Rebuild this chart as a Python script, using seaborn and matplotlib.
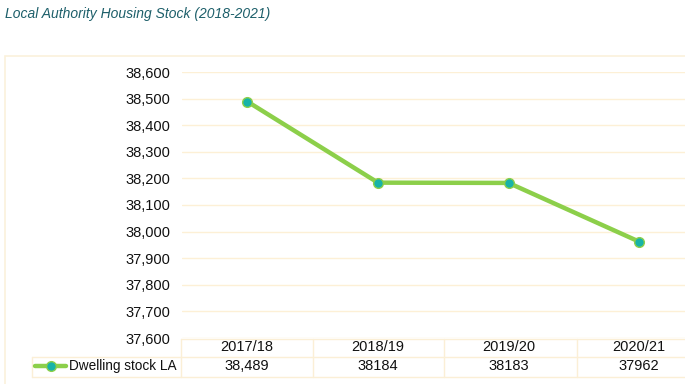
import matplotlib
matplotlib.use("Agg")
import matplotlib.pyplot as plt
import seaborn as sns
import pandas as pd
from matplotlib.lines import Line2D
from matplotlib.patches import Rectangle

sns.set_theme(style="white")
plt.rcParams['font.family'] = ['Liberation Sans', 'DejaVu Sans']

title = "Local Authority Housing Stock (2018-2021)"
series_name = "Dwelling stock LA"
categories = ["2017/18", "2018/19", "2019/20", "2020/21"]
values = [38489, 38184, 38183, 37962]
table_labels = ["38,489", "38184", "38183", "37962"]
yticks = [37600, 37700, 37800, 37900, 38000, 38100, 38200, 38300, 38400, 38500, 38600]

W, H = 685, 384
fig = plt.figure(figsize=(W / 100, H / 100), dpi=100)
fig.patch.set_facecolor("white")

def fx(px):
    return px / W

def fy(py):
    return 1 - py / H

line_col = "#8ccf4a"
marker_col = "#17b3a8"
grid_col = "#fdf0d6"
border_col = "#fbf1dc"

# outer border
fig.add_artist(Rectangle((fx(5), fy(390)), fx(700), fy(56) - fy(390), transform=fig.transFigure,
                         fill=False, edgecolor=border_col, linewidth=1.2))

ax = fig.add_axes([fx(182), fy(338), fx(685) - fx(182), fy(72) - fy(338)])
df = pd.DataFrame({"x": list(range(len(categories))), "v": values})
sns.lineplot(data=df, x="x", y="v", ax=ax, color=line_col, linewidth=3.2,
             marker="o", markersize=7, markerfacecolor=marker_col,
             markeredgecolor=line_col, markeredgewidth=1.0)
ax.set_xlim(-0.5, 3.35)
ax.set_ylim(37600, 38600)
ax.set_yticks(yticks)
ax.set_yticklabels([f"{t:,}" for t in yticks], fontsize=10.5, color="#111111")
ax.set_xticks([])
ax.set_xlabel("")
ax.set_ylabel("")
ax.tick_params(axis="y", length=0, pad=8.5)
for s in ax.spines.values():
    s.set_visible(False)
for t in yticks:
    ax.axhline(t, color=grid_col, linewidth=1, zorder=0)
ax.set_facecolor("none")

# title
fig.text(fx(5), fy(14), title, fontsize=10, style="italic", color="#1d5f6a",
         ha="left", va="center")

# data table
tcol = "#fbefd6"
col_edges = [181, 313, 444, 577]
fig.add_artist(Line2D([fx(181), fx(685)], [fy(339), fy(339)], transform=fig.transFigure, color=tcol, lw=1))
for yy in (357, 377):
    fig.add_artist(Line2D([fx(32), fx(685)], [fy(yy), fy(yy)], transform=fig.transFigure, color=tcol, lw=1))
for xx in col_edges:
    fig.add_artist(Line2D([fx(xx), fx(xx)], [fy(339), fy(377)], transform=fig.transFigure, color=tcol, lw=1))
fig.add_artist(Line2D([fx(32), fx(32)], [fy(357), fy(377)], transform=fig.transFigure, color=tcol, lw=1))

for i, c in enumerate(categories):
    cx = 247 + i * 130.7
    fig.text(fx(cx), fy(347), c, fontsize=10.5, ha="center", va="center", color="#111111")
    fig.text(fx(cx), fy(366), table_labels[i], fontsize=10.5, ha="center", va="center", color="#111111")

# legend key in table
fig.add_artist(Line2D([fx(35), fx(66)], [fy(366), fy(366)], transform=fig.transFigure,
                      color=line_col, lw=3.2, solid_capstyle="round"))
fig.add_artist(Line2D([fx(50.5)], [fy(366)], transform=fig.transFigure, marker="o",
                      markersize=7, markerfacecolor=marker_col, markeredgecolor=line_col, lw=0))
fig.text(fx(69), fy(366), series_name, fontsize=9.8, ha="left", va="center", color="#111111")

fig.savefig("out.png", dpi=100)
